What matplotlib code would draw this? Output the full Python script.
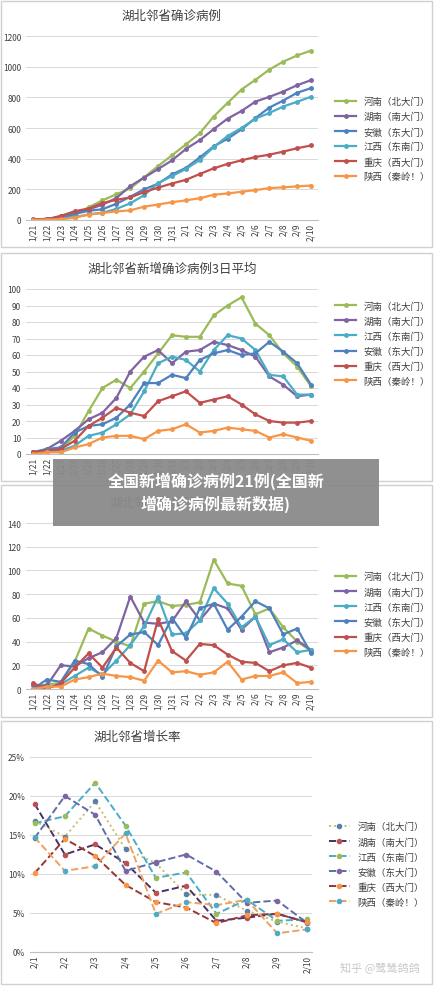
import matplotlib
matplotlib.use("Agg")
import matplotlib.pyplot as plt
from matplotlib.patches import Rectangle

plt.rcParams['font.family'] = ['Noto Sans CJK SC', 'DejaVu Sans']

dates = ['1/21','1/22','1/23','1/24','1/25','1/26','1/27','1/28','1/29','1/30','1/31',
         '2/1','2/2','2/3','2/4','2/5','2/6','2/7','2/8','2/9','2/10']
dates_rate = ['2/1','2/2','2/3','2/4','2/5','2/6','2/7','2/8','2/9','2/10']

names = {'henan': '河南（北大门）', 'hunan': '湖南（南大门）', 'anhui': '安徽（东大门）',
         'jiangxi': '江西（东南门）', 'chongqing': '重庆（西大门）', 'shaanxi': '陕西（秦岭！）'}

cum = {
 'henan':   [0,5,9,32,83,128,168,206,278,352,422,493,566,675,764,851,914,981,1033,1073,1105],
 'hunan':   [1,4,24,43,69,100,143,221,277,332,389,463,521,593,661,711,772,803,838,879,912],
 'anhui':   [1,9,15,39,60,70,106,152,200,237,297,340,408,480,530,591,665,733,779,830,860],
 'jiangxi': [2,3,7,18,36,48,72,109,162,240,286,333,391,476,548,600,661,698,740,771,804],
 'chongqing':[6,5,27,57,75,110,132,147,182,211,238,262,300,337,366,389,411,426,446,468,486],
 'shaanxi': [0,3,5,15,35,46,56,63,87,101,116,128,142,165,173,184,195,208,213,219,225],
}
avg3 = {
 'henan':   [1,2,3,11,26,40,45,40,50,61,72,71,71,84,90,95,79,72,61,53,41],
 'hunan':   [1,3,8,14,21,25,34,50,59,63,55,62,63,68,66,63,59,47,42,35,36],
 'jiangxi': [1,2,2,5,11,13,18,24,38,55,59,57,50,63,72,70,63,48,47,36,36],
 'anhui':   [1,3,4,13,17,18,22,30,43,43,48,46,57,61,63,60,61,68,62,55,42],
 'chongqing':[1,2,3,8,17,22,28,25,23,32,35,38,31,33,35,30,24,20,19,19,20],
 'shaanxi': [0,1,1,4,6,10,11,11,9,14,15,18,13,14,16,15,14,10,12,10,8],
}
daily = {
 'henan':   [0,4,5,23,51,45,40,36,72,74,70,71,73,109,89,87,63,68,52,40,32],
 'hunan':   [3,3,20,19,26,31,43,78,56,55,57,74,58,72,68,50,61,31,35,41,33],
 'jiangxi': [0,1,4,11,18,12,24,37,53,78,46,47,58,85,72,52,61,37,42,31,33],
 'anhui':   [0,8,6,24,21,10,36,46,48,37,60,43,68,72,50,61,74,68,46,51,30],
 'chongqing':[5,0,5,18,30,18,35,22,15,59,32,24,38,37,29,23,22,15,20,22,18],
 'shaanxi': [0,2,2,8,10,13,11,10,7,24,14,15,12,14,23,8,11,11,14,5,6],
}
rate = {
 'henan':   [16.8,14.8,19.3,13.2,11.4,7.4,7.3,5.3,3.9,3.0],
 'hunan':   [19.0,12.5,13.8,11.4,7.6,8.5,4.0,4.4,4.9,3.8],
 'jiangxi': [16.5,17.4,21.7,16.2,9.5,10.2,4.9,6.7,4.0,4.2],
 'anhui':   [14.6,20.0,17.6,10.4,11.5,12.5,10.3,6.3,6.6,3.7],
 'chongqing':[10.1,14.5,12.3,8.6,6.4,5.7,3.7,4.7,4.9,3.8],
 'shaanxi': [14.7,10.4,11.0,15.2,4.9,6.4,6.0,6.7,2.4,2.9],
}

col = {'henan': '#9bbb59', 'hunan': '#8064a2', 'anhui': '#4f81bd',
       'jiangxi': '#4bacc6', 'chongqing': '#c0504d', 'shaanxi': '#f79646'}
rate_style = {
 'henan': ('#c4bd6a', '#5a7fa8', ':'),
 'hunan': ('#4a2f6b', '#c0504d', '--'),
 'jiangxi': ('#4bacc6', '#9bbb59', '--'),
 'anhui': ('#5d6ea8', '#8064a2', '--'),
 'chongqing': ('#953735', '#f79646', '--'),
 'shaanxi': ('#f0a060', '#4bacc6', '--'),
}

W, H = 434, 987
fig = plt.figure(figsize=(W/100, H/100), dpi=100)

for y0, y1 in [(2, 248), (254, 482), (486, 718), (722, 985)]:
    fig.patches.append(Rectangle((1/W, 1-y1/H), (W-3)/W, (y1-y0)/H, transform=fig.transFigure,
                                 fill=False, edgecolor='#d0d0d0', lw=1))

def style(ax, labels, xlim):
    ax.set_xlim(*xlim)
    ax.set_xticks(range(len(labels)))
    ax.set_xticklabels(labels, rotation=90, fontsize=6, color='#404040')
    ax.tick_params(axis='y', labelsize=6, colors='#404040', length=0)
    ax.tick_params(axis='x', length=0, pad=2)
    ax.grid(axis='y', color='#d9d9d9', lw=0.7)
    ax.set_axisbelow(True)
    for s in ['top', 'right', 'left']:
        ax.spines[s].set_visible(False)
    ax.spines['bottom'].set_color('#bfbfbf')

def legend(ax, yc):
    ax.legend(loc='center left', bbox_to_anchor=(1.03, yc), frameon=False, fontsize=6.8,
              handlelength=2.2, labelspacing=0.6, labelcolor='#404040')

def ax_at(x0, x1, ytop, ybot):
    return fig.add_axes([x0/W, 1-ybot/H, (x1-x0)/W, (ybot-ytop)/H])

x = range(len(dates))

ax1 = ax_at(26, 318, 37, 221)
for k in ['henan', 'hunan', 'anhui', 'jiangxi', 'chongqing', 'shaanxi']:
    ax1.plot(x, cum[k], color=col[k], lw=1.6, marker='o', ms=2.5, label=names[k])
ax1.set_ylim(0, 1200)
ax1.set_yticks(range(0, 1201, 200))
style(ax1, dates, (-0.5, 20.5))
ax1.set_title('湖北邻省确诊病例', fontsize=9, color='#404040', pad=12)
legend(ax1, 0.44)

ax2 = ax_at(26, 318, 290, 455)
for k in ['henan', 'hunan', 'jiangxi', 'anhui', 'chongqing', 'shaanxi']:
    ax2.plot(x, avg3[k], color=col[k], lw=1.6, marker='o', ms=2.5, label=names[k])
ax2.set_ylim(0, 100)
ax2.set_yticks(range(0, 101, 10))
style(ax2, dates, (-0.5, 20.5))
ax2.set_title('湖北邻省新增确诊病例3日平均', fontsize=9, color='#404040', pad=12)
legend(ax2, 0.67)

ax3 = ax_at(26, 318, 524, 690)
for k in ['henan', 'hunan', 'jiangxi', 'anhui', 'chongqing', 'shaanxi']:
    ax3.plot(x, daily[k], color=col[k], lw=1.6, marker='o', ms=2.5, label=names[k])
ax3.set_ylim(0, 140)
ax3.set_yticks(range(0, 141, 20))
style(ax3, dates, (-0.5, 20.5))
ax3.set_title('湖北邻省新增确诊病例', fontsize=9, color='#404040', pad=12)
legend(ax3, 0.45)

ax4 = ax_at(30, 312, 758, 953)
xr = range(len(dates_rate))
for k in ['henan', 'hunan', 'jiangxi', 'anhui', 'chongqing', 'shaanxi']:
    lc, mc, ls = rate_style[k]
    ax4.plot(xr, [v/100 for v in rate[k]], color=lc, ls=ls, lw=1.4, marker='o', ms=3,
             mfc=mc, mec=mc, label=names[k])
ax4.set_ylim(0, 0.25)
ax4.set_yticks([0, 0.05, 0.10, 0.15, 0.20, 0.25])
ax4.set_yticklabels(['0%', '5%', '10%', '15%', '20%', '25%'])
style(ax4, dates_rate, (-0.15, 9.15))
ax4.set_title('湖北邻省增长率', fontsize=9, color='#404040', pad=12, x=0.38)
legend(ax4, 0.45)

fig.patches.append(Rectangle((53/W, 1-527/H), 326/W, 67/H, transform=fig.transFigure,
                             facecolor='#8a8a8a', alpha=0.95, edgecolor='none', zorder=10))
fig.text(216/W, 1-493/H, '全国新增确诊病例21例(全国新\n增确诊病例最新数据)', ha='center', va='center',
         fontsize=11.5, color='white', fontweight='bold', linespacing=1.4, zorder=11)

fig.text(420/W, 1-968/H, '知乎 @鹭鸶鸽鸽', ha='right', va='center', fontsize=8, color='#c8c8c8')

fig.savefig('out.png', dpi=100)
